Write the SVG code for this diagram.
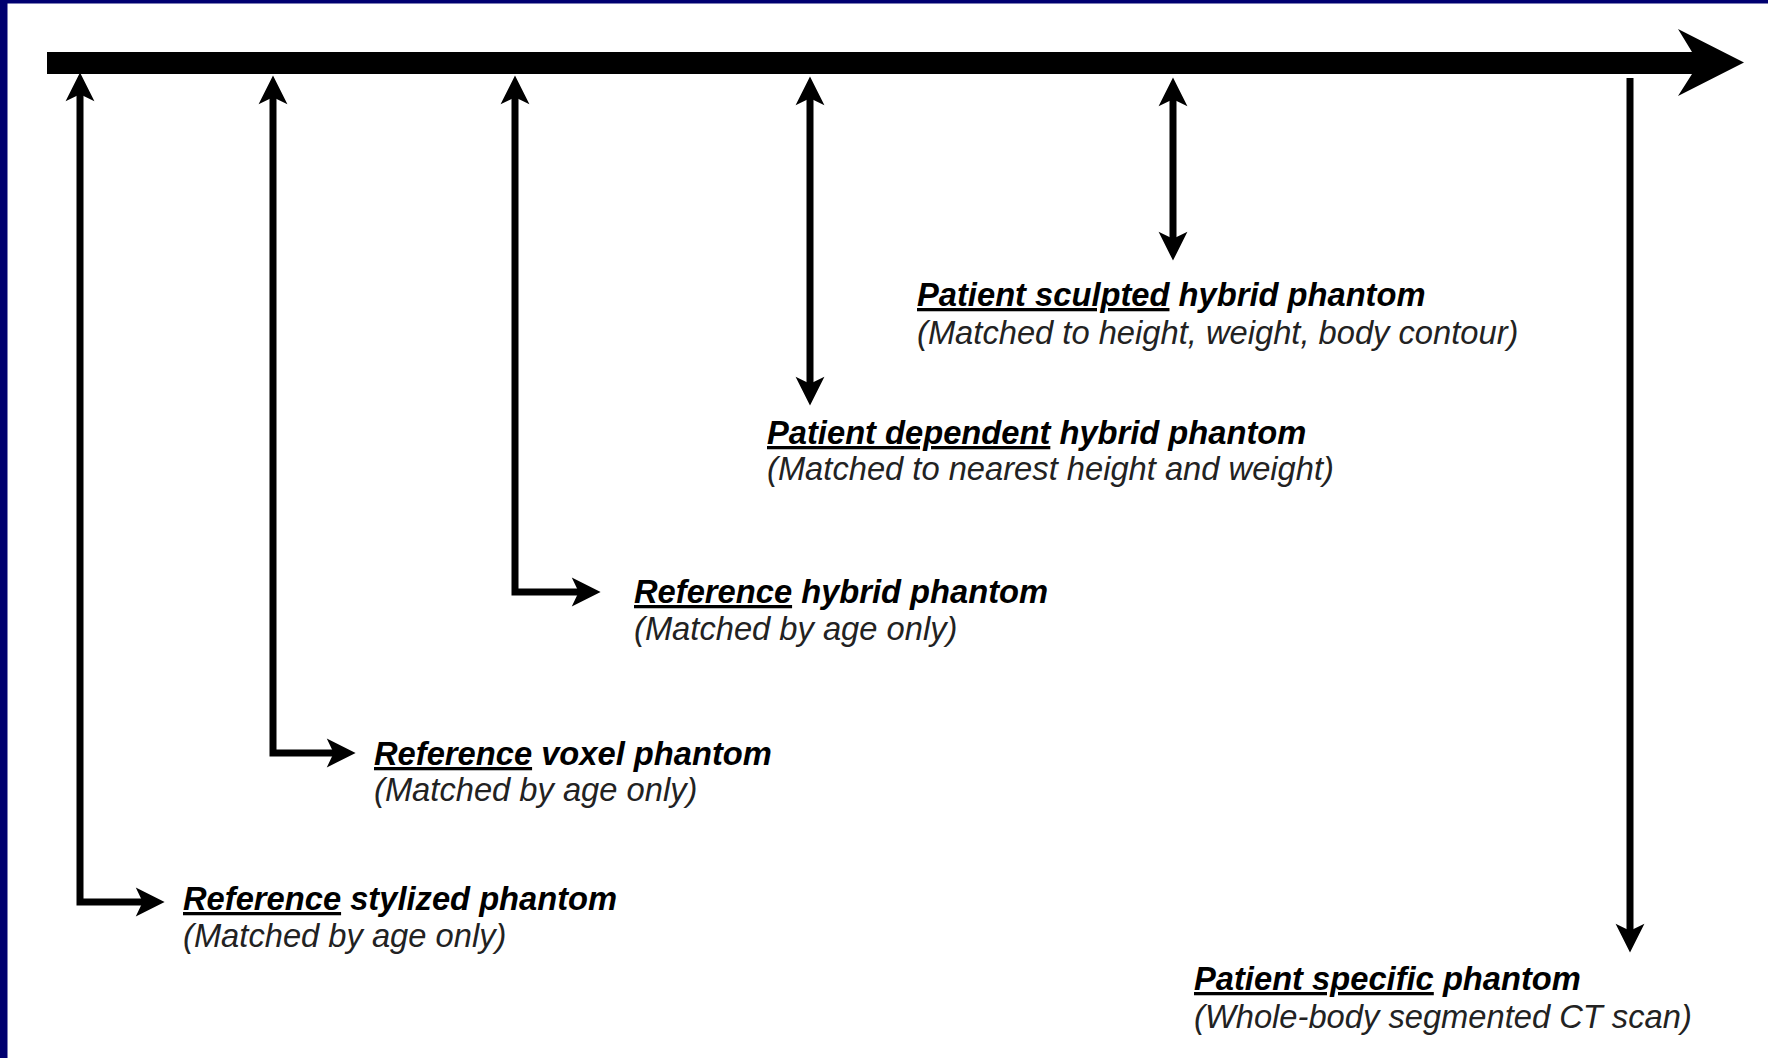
<svg xmlns="http://www.w3.org/2000/svg" width="1768" height="1058" viewBox="0 0 1768 1058">
<style>
.title{font-family:"Liberation Sans",Arial,sans-serif;font-size:32.7px;font-weight:bold;font-style:italic;fill:#000}
.sub{font-family:"Liberation Sans",Arial,sans-serif;font-size:32.7px;font-style:italic;fill:#222}
.u{text-decoration:underline}
.conn{fill:none;stroke:#000;stroke-width:7;stroke-linejoin:miter;stroke-linecap:butt}
</style>
<defs>
<marker id="ah" markerUnits="userSpaceOnUse" markerWidth="30" markerHeight="30" viewBox="0 -13 26 26" refX="8" refY="0" orient="auto-start-reverse" overflow="visible">
<path d="M0,-12.5 L25,0 L0,12.5 L6,0 Z" fill="#000"/>
</marker>
</defs>
<rect x="0" y="0" width="1768" height="1058" fill="#fff"/>
<rect x="0" y="0" width="7.5" height="1058" fill="#000070"/>
<rect x="0" y="0" width="1768" height="3.5" fill="#000070"/>
<g id="timeline">
<path d="M47,52 L1692,52 L1678,29 L1744,62.5 L1678,96 L1692,74 L47,74 Z" fill="#000"/>
</g>
<g id="connectors">
<path class="conn" d="M80,92 L80,902 L145,902" marker-start="url(#ah)" marker-end="url(#ah)"/>
<path class="conn" d="M273,95 L273,753 L336,753" marker-start="url(#ah)" marker-end="url(#ah)"/>
<path class="conn" d="M515,95 L515,592 L581,592" marker-start="url(#ah)" marker-end="url(#ah)"/>
<path class="conn" d="M810,96 L810,386" marker-start="url(#ah)" marker-end="url(#ah)"/>
<path class="conn" d="M1173,97 L1173,241" marker-start="url(#ah)" marker-end="url(#ah)"/>
<path class="conn" d="M1630,78 L1630,933" marker-end="url(#ah)"/>
</g>
<g id="node-stylized">
<text class="title" x="183" y="910"><tspan class="u">Reference</tspan> stylized phantom</text>
<text class="sub" x="183" y="947">(Matched by age only)</text>
</g>
<g id="node-voxel">
<text class="title" x="374" y="765"><tspan class="u">Reference</tspan> voxel phantom</text>
<text class="sub" x="374" y="801">(Matched by age only)</text>
</g>
<g id="node-hybrid">
<text class="title" x="634" y="603"><tspan class="u">Reference</tspan> hybrid phantom</text>
<text class="sub" x="634" y="640">(Matched by age only)</text>
</g>
<g id="node-dependent">
<text class="title" x="767" y="444"><tspan class="u">Patient dependent</tspan> hybrid phantom</text>
<text class="sub" x="767" y="480">(Matched to nearest height and weight)</text>
</g>
<g id="node-sculpted">
<text class="title" x="917" y="306"><tspan class="u">Patient sculpted</tspan> hybrid phantom</text>
<text class="sub" x="917" y="344">(Matched to height, weight, body contour)</text>
</g>
<g id="node-specific">
<text class="title" x="1194" y="990"><tspan class="u">Patient specific</tspan> phantom</text>
<text class="sub" x="1194" y="1028">(Whole-body segmented CT scan)</text>
</g>
</svg>
